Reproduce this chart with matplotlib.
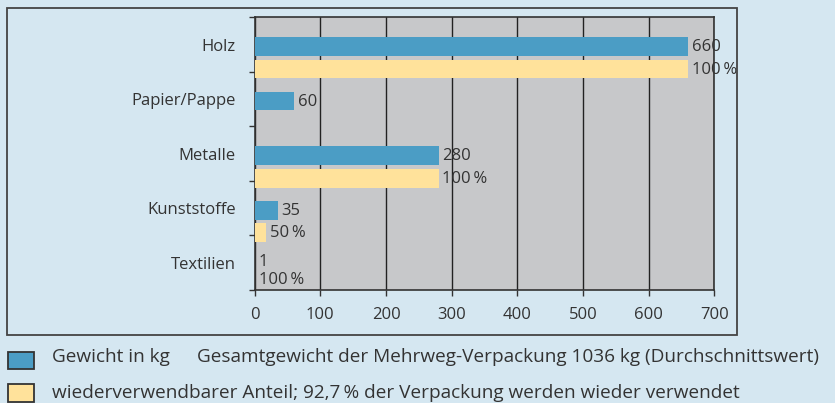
import matplotlib
matplotlib.use("Agg")
import matplotlib.pyplot as plt
from matplotlib.patches import Rectangle

plt.rcParams['font.family'] = ['Open Sans', 'DejaVu Sans']

categories = ["Holz", "Papier/Pappe", "Metalle", "Kunststoffe", "Textilien"]
weight_kg = [660, 60, 280, 35, 1]
reused_kg = [660, 0, 280, 17.5, 1]
weight_labels = ["660", "60", "280", "35", "1"]
reused_labels = ["100\u2009%", "", "100\u2009%", "50\u2009%", "100\u2009%"]
xticks = [0, 100, 200, 300, 400, 500, 600, 700]
legend_texts = ["Gewicht in kg",
                "Gesamtgewicht der Mehrweg-Verpackung 1036 kg (Durchschnittswert)",
                "wiederverwendbarer Anteil; 92,7\u2009% der Verpackung werden wieder verwendet"]

BG = "#d5e7f1"
BLUE = "#4b9dc5"
YELLOW = "#ffe29b"
PLOTBG = "#c7c8ca"
TXT = "#333333"

fig = plt.figure(figsize=(8.35, 4.03), dpi=100, facecolor=BG)
ax = fig.add_axes([0.305, 0.2804, 0.5505, 0.6766])
ax.set_facecolor(PLOTBG)

n = len(categories)
ys = list(range(n))
h = 0.343
yb = [y + 0.036 for y in ys]
yy = [y + 0.45 for y in ys]
ax.barh(yb, weight_kg, height=h, color=BLUE, zorder=3)
ax.barh(yy, reused_kg, height=h, color=YELLOW, zorder=3)

for i in range(n):
    last = categories[i] == "Textilien"
    dy = 2 if last else -0.5
    ax.annotate(weight_labels[i], (weight_kg[i], yb[i]), xytext=(2.5, dy),
                textcoords="offset points", va="center", ha="left",
                fontsize=12, color=TXT, zorder=5)
    if reused_labels[i]:
        dy2 = 5 if last else -0.5
        ax.annotate(reused_labels[i], (reused_kg[i], yy[i]), xytext=(2.5, dy2),
                    textcoords="offset points", va="center", ha="left",
                    fontsize=12, color=TXT, zorder=5)

ax.set_xlim(0, 700)
ax.set_ylim(n - 0.5, -0.5)
ax.set_xticks(xticks)
ax.set_xticklabels([str(t) for t in xticks], fontsize=12, color=TXT)
ax.set_yticks([i - 0.5 for i in range(n + 1)])
ax.set_yticklabels([])
ax.set_yticks(ys, minor=True)
ax.set_yticklabels(categories, minor=True, fontsize=12, color=TXT)
ax.tick_params(axis='y', which='minor', length=0, pad=13.5)
ax.tick_params(axis='y', which='major', length=4, width=1, color=TXT)
ax.tick_params(axis='x', length=4, width=1, color=TXT, pad=8)
ax.grid(axis='x', color="#222222", linewidth=1, zorder=1)
ax.set_axisbelow(True)
for s in ax.spines.values():
    s.set_color("#333333")
    s.set_linewidth(1.2)

# outer frame
fig.patches.append(Rectangle((0.0084, 0.1687), 0.8742, 0.8113, transform=fig.transFigure,
                             fill=False, edgecolor="#444444", linewidth=1.3))

# legend
fig.patches.append(Rectangle((0.0099, 0.0844), 0.0308, 0.043, transform=fig.transFigure,
                             facecolor=BLUE, edgecolor="#333333", linewidth=1.3))
fig.patches.append(Rectangle((0.0099, 0.0032), 0.0308, 0.043, transform=fig.transFigure,
                             facecolor=YELLOW, edgecolor="#333333", linewidth=1.3))
fig.text(0.0619, 0.1017, legend_texts[0], fontsize=13.7, color=TXT, va="baseline")
fig.text(0.2356, 0.1017, legend_texts[1], fontsize=13.7, color=TXT, va="baseline")
fig.text(0.0619, 0.0124, legend_texts[2], fontsize=13.7, color=TXT, va="baseline")

fig.savefig("out.png", dpi=100, facecolor=BG)
